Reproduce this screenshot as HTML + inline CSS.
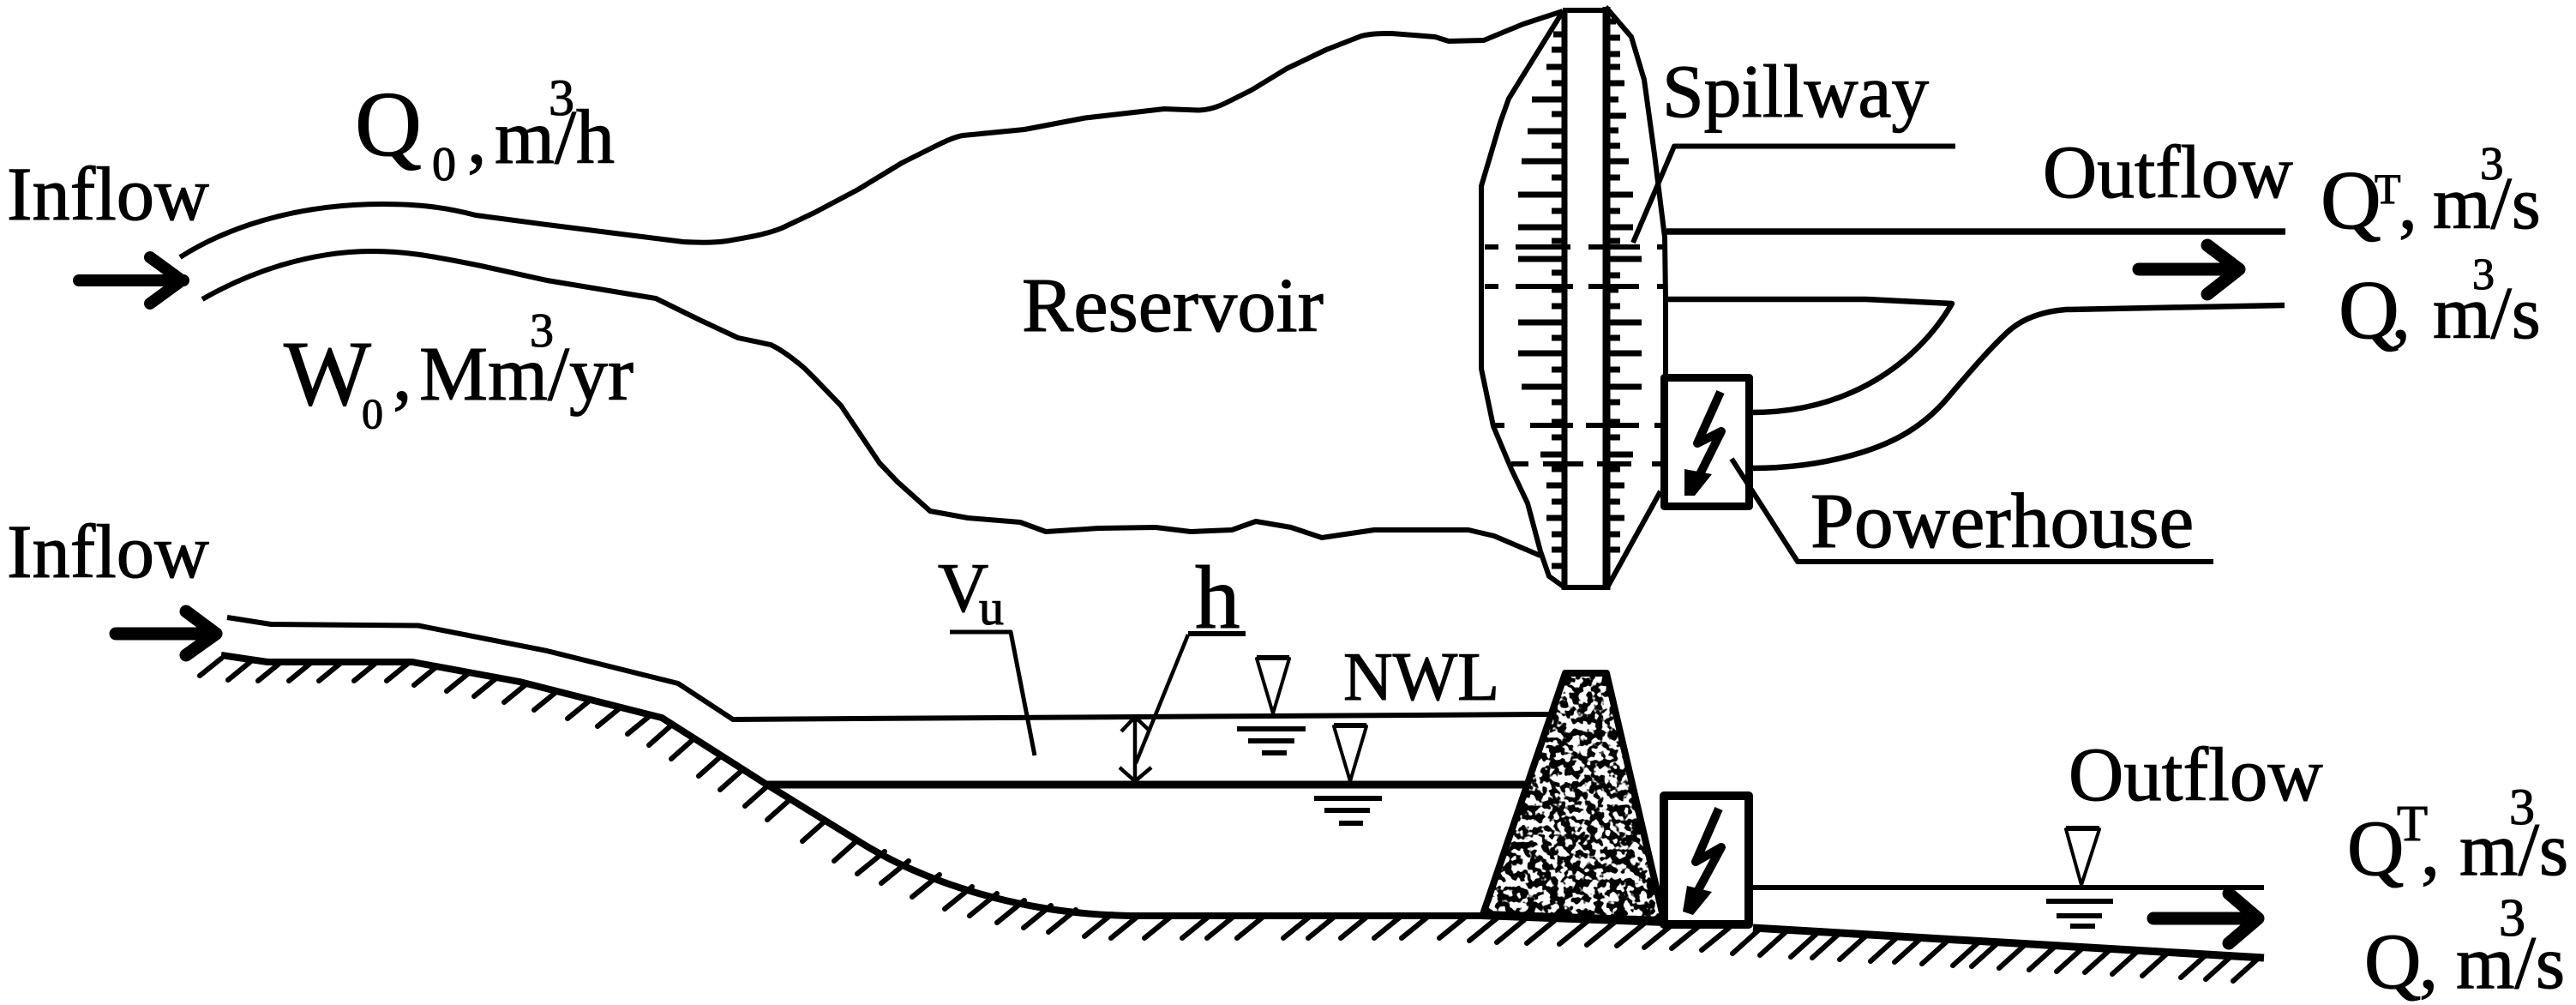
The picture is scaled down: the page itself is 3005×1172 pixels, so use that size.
<!DOCTYPE html>
<html><head><meta charset="utf-8"><title>Reservoir diagram</title>
<style>
html,body{margin:0;padding:0;background:#fff;width:3005px;height:1172px;overflow:hidden}
svg{display:block}
text{font-family:"Liberation Serif",serif;fill:#000;stroke:#000;stroke-width:1.1px}
.l{fill:none;stroke:#000;stroke-linejoin:round;stroke-linecap:butt}
.r{fill:none;stroke:#000;stroke-linejoin:round;stroke-linecap:round}
</style></head><body>
<svg width="3005" height="1172" viewBox="0 0 3005 1172" xmlns="http://www.w3.org/2000/svg">
<defs>
<filter id="sp" x="0" y="0" width="1" height="1" color-interpolation-filters="sRGB">
<feTurbulence type="fractalNoise" baseFrequency="0.115" numOctaves="2" seed="7" result="n"/>
<feColorMatrix in="n" type="matrix" values="0 0 0 0 0  0 0 0 0 0  0 0 0 0 0  14 0 0 0 -6.3" result="t"/>
<feComposite in="t" in2="SourceAlpha" operator="in"/>
</filter>
</defs>

<!-- Plan view: reservoir banks -->
<path class="l" stroke-width="6" d="M210 300C260 268 340 238 446 238C490 238 520 242 555 251L638 262L733 274L797 282C815 283 835 283 848 281C870 277 892 274 912 266L950 248L1001 221L1052 190L1088 172C1100 166 1112 160 1123 158L1195 151L1266 137.5L1358 127L1399 128.5C1410 128 1420 125 1430 120L1460 105L1501 80L1547 58L1588 42C1600 39 1612 39 1623 39L1674 43L1690 48L1731 47L1743 42L1777 28L1823 13"/>
<path class="l" stroke-width="6" d="M236 349C290 318 360 293 434 293C470 293 497 297 561 310L638 327L765 348L816 373L861 394L899 402C912 408 925 418 938 429L950 441L981 473L1026 540L1047 562L1085 596L1129 604L1190 609L1220 620L1282 616L1348 615L1389 620L1437 618L1465 608L1506 615L1542 627L1603 618L1713 618L1743 625L1797 648"/>

<!-- Dam plan outline -->
<polyline class="l" stroke-width="6" points="1822,15 1760,115 1750,143 1728,217 1728,430 1742,497 1763,547 1782,587 1797,643 1807,672 1825,685 1875,685 1937,573"/>
<polyline class="l" stroke-width="6" points="1873,8 1903,43 1918,93 1930,180 1942,277 1943,350 1943,437"/>
<path class="l" stroke-width="6" d="M1823 12H1875"/>
<path class="l" stroke-width="7" d="M1825 12V688"/>
<path class="l" stroke-width="9" d="M1874 8V688"/>
<!-- ticks -->
<path class="l" stroke-width="7" d="M1812 40H1825M1810 58H1825M1804 78H1825M1810 97H1825M1787 116H1825M1810 133H1825M1782 153H1825M1810 170H1825M1775 188H1825M1810 207H1825M1771 227H1825M1810 246H1825M1771 265H1825M1810 281H1825M1771 302H1825M1810 318H1825M1810 338H1825M1810 357H1825M1771 376H1825M1810 394H1825M1771 412H1825M1810 431H1825M1775 451H1825M1810 469H1825M1810 492H1825M1810 510H1825M1797 530H1825M1810 547H1825M1804 566H1825M1810 585H1825M1804 604H1825M1810 623H1825M1810 641H1825M1810 660H1825"/>
<path class="l" stroke-width="7" d="M1874 25H1885M1874 44H1890M1874 63H1890M1874 78H1890M1874 97H1895M1874 116H1888M1874 135H1897M1874 152H1888M1874 170H1890M1874 188H1900M1874 207H1890M1874 227H1905M1874 246H1890M1874 265H1905M1874 281H1890M1874 302H1915M1874 321H1890M1874 338H1888M1874 357H1890M1874 376H1915M1874 394H1890M1874 412H1915M1874 431H1890M1874 451H1915M1874 469H1890M1874 492H1890M1874 510H1890M1874 530H1905M1874 547H1890M1874 566H1895M1874 585H1890M1874 604H1895M1874 623H1890M1874 641H1890"/>
<!-- dashes -->
<path class="l" stroke-width="6" d="M1732 288H1748M1768 288H1832M1853 288H1913M1933 288H1942M1732 334H1748M1768 334H1835M1853 334H1912M1933 334H1942M1743 496H1755M1785 496H1835M1850 496H1912M1930 496H1938M1763 541H1783M1800 541H1847M1863 541H1903M1927 541H1938"/>

<!-- Spillway leader & channels -->
<polyline class="l" stroke-width="6" points="2281,170.5 1953,170.5 1905,283"/>
<path class="l" stroke-width="7.5" d="M1944 270H2666"/>
<path class="l" stroke-width="6.5" d="M1944 349H2177L2277 354C2245 410 2170 481 2043 481"/>
<path class="l" stroke-width="6.5" d="M2665 356L2410 361C2385 363 2360 370 2341 388S2305 425 2272 464S2200 520 2160 531S2080 546 2043 546"/>

<!-- Powerhouse plan -->
<rect class="l" x="1941.5" y="440.5" width="99" height="150" stroke-width="9" style="fill:#fff"/>
<polyline class="l" stroke-width="10" points="2007,457 1980,517 2008,503 1983,553"/>
<polygon points="1965,547 1965,578 1977,578 1997,553"/>
<polyline class="l" stroke-width="6" points="2020,535 2097,655 2582,655"/>

<!-- Section: river and bed -->
<polyline class="l" stroke-width="6" points="265,720 316,728 488,729.5 638,759 791,797 855,839 1000,838 1807,833"/>
<path class="l" stroke-width="8" d="M258 764L312 772H481L606 795L772 837L893 914L1000 980C1075 1028 1190 1066 1319 1068H1727L1944 1076"/>
<path class="l" stroke-width="9" d="M893 915H1781"/>
<path class="r" stroke-width="6" d="M258 768l-25 20M293 771l-27 22M328 772l-27 22M364 772l-27 22M399 772l-27 22M440 772l-27 22M478 772l-27 22M510 777l-27 22M548 784l-27 22M580 790l-27 22M615 797l-27 22M650 806l-27 22M689 816l-27 22M724 825l-27 22M759 834l-27 22M784 845l-27 24M810 861l-27 24M842 881l-27 24M867 897l-27 24M896 916l-27 24M922 932l-27 24M963 957l-27 24M1000 980l-27 24M1032 993l-32 26M1060 1004l-32 26M1096 1020l-32 26M1134 1034l-32 26M1163 1042l-32 26M1195 1050l-32 26M1226 1056l-32 26M1255 1061l-32 26M1297 1066l-32 26M1328 1068l-32 26M1367 1068l-32 26M1411 1068l-32 26M1440 1068l-32 26M1475 1068l-32 26M1529 1068l-32 26M1558 1068l-32 26M1596 1068l-32 26M1635 1068l-32 26M1667 1068l-32 26M1711 1068l-32 26M1746 1071l-32 26M1778 1073l-32 26M1813 1074l-32 26M1851 1075l-32 26M1883 1076l-32 26M1918 1077l-32 26M1950 1079l-32 26M1982 1080l-32 26M2017 1082l-32 26"/>
<path class="r" stroke-width="6" d="M2051 1085l-30 27M2083 1087l-30 27M2119 1089l-30 27M2144 1090l-30 27M2176 1092l-30 27M2212 1094l-30 27M2240 1095l-30 27M2272 1097l-30 27M2308 1099l-30 27M2330 1100l-30 27M2362 1102l-30 27M2397 1104l-30 27M2429 1106l-30 27M2462 1107l-30 27M2494 1109l-30 27M2529 1111l-30 27M2574 1113l-30 27M2603 1115l-30 27M2635 1117l-30 27"/>
<path class="l" stroke-width="9" d="M2045 1082L2641 1117"/>

<!-- Dam section -->
<polygon points="1826,785 1874,785 1941,1073 1730,1064" fill="#000" filter="url(#sp)"/>
<polygon class="l" stroke-width="8" points="1826,785 1874,785 1941,1073 1730,1066"/>

<!-- Powerhouse section -->
<rect class="l" x="1941" y="928" width="99" height="150" stroke-width="10" style="fill:#fff"/>
<polyline class="l" stroke-width="10" points="2005,943 1978,1005 2008,988 1980,1040"/>
<polygon points="1968,1033 1963,1063 1975,1067 1997,1040"/>
<path class="l" stroke-width="6" d="M2045 1035H2641"/>

<!-- Water level symbols -->
<polygon class="l" stroke-width="4" points="1466,768 1504,768 1485,832"/><path class="l" stroke-width="6" d="M1466 767H1504M1443 850H1523M1456 864H1510M1472 878H1501"/>
<polygon class="l" stroke-width="4" points="1556,847 1594,847 1575,911"/><path class="l" stroke-width="6" d="M1556 846H1594M1533 931H1612M1545 945H1598M1562 960H1590"/>
<polygon class="l" stroke-width="4" points="2410,967 2449,967 2428,1032"/><path class="l" stroke-width="6" d="M2410 966H2449M2387 1051H2465M2399 1068H2452M2415 1080H2444"/>

<!-- Vu, h leaders, dimension arrow -->
<polyline class="l" stroke-width="5" points="1108,737 1179,737 1207,881"/>
<path class="l" stroke-width="6" d="M1386 739H1453"/>
<path class="l" stroke-width="4.5" d="M1386 740L1325 890M1324 835V911M1308 853L1324 836L1342 853M1306 895L1324 911L1343 895"/>

<!-- Flow arrows -->
<path class="r" stroke-width="14" d="M92 327H214M175 300L212 327L175 354"/>
<path class="r" stroke-width="15" d="M135 739H252M217 713L252 739L217 764"/>
<path class="r" stroke-width="15" d="M2495 314H2612M2575 286L2612 314L2575 343"/>
<path class="r" stroke-width="15" d="M2512 1071H2632M2600 1042L2634 1071L2600 1100"/>

<!-- Labels -->
<text x="8" y="256" font-size="88.5">Inflow</text>
<text x="414" y="181" font-size="108">Q</text>
<text x="504" y="210" font-size="56">0</text>
<text x="545" y="190" font-size="90">,</text>
<text x="577" y="190" font-size="90">m/h</text>
<text x="640" y="134" font-size="60">3</text>

<text x="331" y="472" font-size="108">W</text>
<text x="422" y="499" font-size="50">0</text>
<text x="458" y="466" font-size="90">,</text>
<text x="489" y="466" font-size="90">Mm/yr</text>
<text x="618" y="404" font-size="56">3</text>

<text x="1192" y="386" font-size="90.5">Reservoir</text>
<text x="1939" y="136" font-size="87.5">Spillway</text>
<text x="2383" y="230" font-size="87.5">Outflow</text>
<text x="2112" y="638" font-size="91.5">Powerhouse</text>

<text x="2707" y="266" font-size="98">Q</text>
<text x="2770" y="237" font-size="50">T</text>
<text x="2798" y="266" font-size="87">,</text>
<text x="2838" y="266" font-size="87">m/s</text>
<text x="2893" y="209" font-size="55">3</text>

<text x="2728" y="394" font-size="98">Q</text>
<text x="2790" y="394" font-size="87">,</text>
<text x="2838" y="394" font-size="87">m/s</text>
<text x="2884" y="337" font-size="52">3</text>

<text x="8" y="673" font-size="88.5">Inflow</text>
<text x="1094" y="713" font-size="82">V</text>
<text x="1142" y="728" font-size="58">u</text>
<text x="1394" y="732" font-size="105">h</text>
<text x="1567" y="816" font-size="80">NWL</text>

<text x="2413" y="933" font-size="89">Outflow</text>
<text x="2738" y="1020" font-size="92">Q</text>
<text x="2796" y="980" font-size="59">T</text>
<text x="2824" y="1020" font-size="88">,</text>
<text x="2869" y="1020" font-size="88">m/s</text>
<text x="2927" y="961" font-size="60">3</text>

<text x="2758" y="1152" font-size="92">Q</text>
<text x="2822" y="1152" font-size="88">,</text>
<text x="2865" y="1152" font-size="88">m/s</text>
<text x="2915" y="1091" font-size="62">3</text>
</svg>
</body></html>
